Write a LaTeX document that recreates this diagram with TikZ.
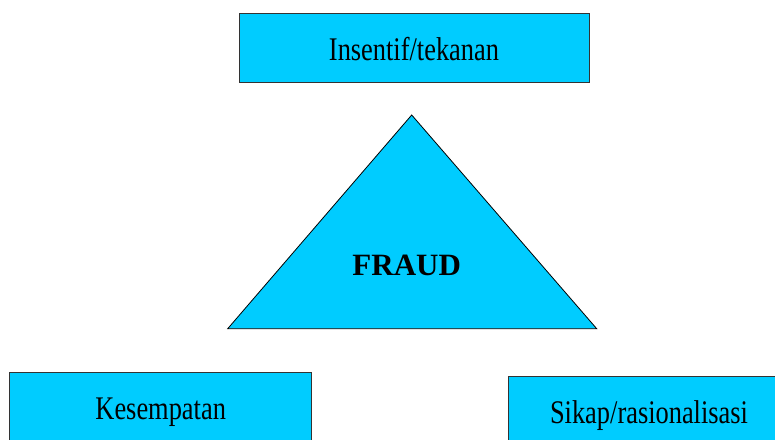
\documentclass[tikz,border=0pt]{standalone}
\usepackage{fontspec}
\setmainfont{Liberation Serif}
\newfontfamily\boxfont{Liberation Serif}[FakeStretch=0.8]
\usepackage{xcolor}
\usepackage{tikz}
\usetikzlibrary{calc}

\definecolor{fraudcyan}{HTML}{00CCFF}
\definecolor{edgegray}{HTML}{333333}

\begin{document}
\begin{tikzpicture}[
  x=1pt, y=1pt,
  factor/.style = {rectangle, draw=edgegray, fill=fraudcyan, line width=1pt,
                   minimum height=69pt, inner sep=0pt,
                   text height=25.8pt, text depth=0pt,
                   font=\boxfont\fontsize{33}{33}\selectfont},
  tri/.style    = {draw=black, fill=fraudcyan, line width=0.8pt, line join=miter},
  core/.style   = {font=\bfseries\fontsize{31}{31}\selectfont, anchor=base, inner sep=0pt},
]
\useasboundingbox (0,0) rectangle (775,439);
\clip (0,0) rectangle (775,439);

%% ── Triangle ─────────────────────────────────────────────────────────────
\coordinate (apex)  at (411.7,324);
\coordinate (left)  at (227.7,110.3);
\coordinate (right) at (596.7,110.3);
\draw[tri] (apex) -- (right) -- (left) -- cycle;
\node[core] (fraud) at (406.7,163) {FRAUD};

%% ── Three factors ────────────────────────────────────────────────────────
\node[factor, minimum width=350pt] (insentif) at (414,391.2)  {Insentif/tekanan};
\node[factor, minimum width=302pt] (peluang)  at (160.7,32.2) {Kesempatan};
\node[factor, minimum width=282pt] (sikap)    at (649,28.5)   {Sikap/rasionalisasi};

\end{tikzpicture}
\end{document}
